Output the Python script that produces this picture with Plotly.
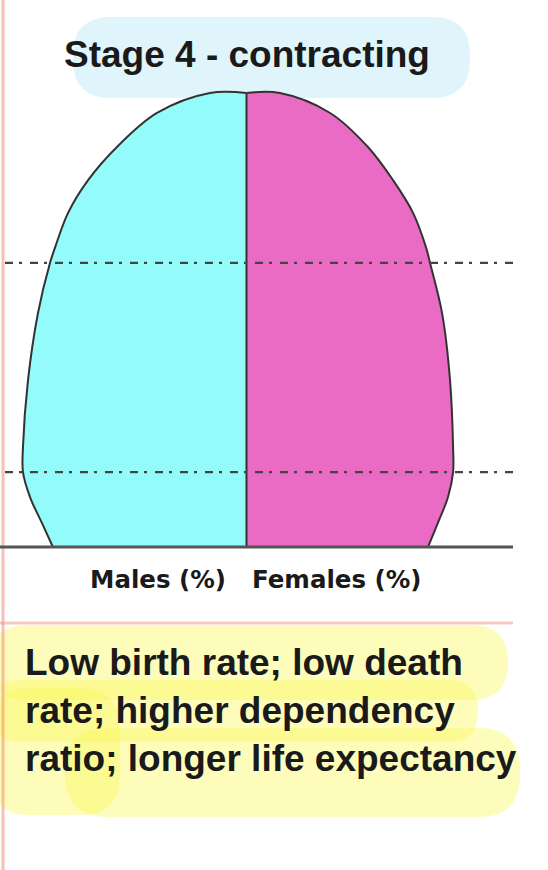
import plotly.graph_objects as go

# age (years, bottom -> top) and share of population at each age (%)
ages = [0, 5.3, 11, 16.5, 22, 36.8, 51.5, 62.6, 66, 73.6, 80.8, 88.1, 95.6, 100, 100]
males = [8.80, 9.30, 9.84, 10.16, 10.16, 9.93, 9.48, 8.93, 8.70, 8.11, 7.20, 5.89, 4.07, 1.66, 0]
females = [8.25, 8.70, 9.16, 9.39, 9.39, 9.25, 8.89, 8.34, 8.16, 7.57, 6.66, 5.52, 3.80, 1.52, 0]

# dependency boundaries (dash-dot guides)
guide_ages = [16.5, 62.6]

title = "Stage 4 - contracting"
axis_labels = ["Males (%)", "Females (%)"]
caption = ["Low birth rate; low death", "rate; higher dependency", "ratio; longer life expectancy"]

W, H = 548, 870
CENTER_PX, PX_PER_PCT = 246.5, 22.0
BASE_PX, PX_PER_YEAR = 547.0, 4.54


def px(x):
    return x / W


def py(y):
    return 1 - y / H


def blob(x0, y0, x1, y1, r):
    # rounded rectangle in pixel space -> paper path
    pts = [
        ("M", [(x0 + r, y0)]), ("L", [(x1 - r, y0)]), ("Q", [(x1, y0), (x1, y0 + r)]),
        ("L", [(x1, y1 - r)]), ("Q", [(x1, y1), (x1 - r, y1)]), ("L", [(x0 + r, y1)]),
        ("Q", [(x0, y1), (x0, y1 - r)]), ("L", [(x0, y0 + r)]), ("Q", [(x0, y0), (x0 + r, y0)]),
    ]
    d = ""
    for cmd, ps in pts:
        d += cmd + " " + " ".join(f"{px(a):.5f},{py(b):.5f}" for a, b in ps) + " "
    return d + "Z"


fig = go.Figure()

fig.add_trace(go.Scatter(
    x=[-m for m in males], y=ages, mode="lines", line_shape="spline",
    fill="tozerox", fillcolor="#93fbfa", line=dict(color="#333333", width=2),
))
fig.add_trace(go.Scatter(
    x=females, y=ages, mode="lines", line_shape="spline",
    fill="tozerox", fillcolor="#e96bc3", line=dict(color="#333333", width=2),
))
fig.add_trace(go.Scatter(
    x=[0, 0], y=[ages[0], ages[-1]], mode="lines", line=dict(color="#333333", width=2),
))

shapes = []
# highlighter marks
shapes.append(dict(type="path", xref="paper", yref="paper", layer="below",
                   path=blob(73, 17, 470, 98, 38), fillcolor="#dff4fb", line_width=0))
yellow = "rgba(250,248,90,0.42)"
for x0, y0, x1, y1, r in [(-10, 625, 508, 700, 37), (-10, 680, 478, 742, 30),
                          (65, 728, 520, 817, 42), (-10, 688, 120, 815, 40)]:
    shapes.append(dict(type="path", xref="paper", yref="paper", layer="below",
                       path=blob(x0, y0, x1, y1, r), fillcolor=yellow, line_width=0))

# faint red page rules
shapes.append(dict(type="line", xref="paper", yref="paper", x0=px(3), x1=px(3), y0=0, y1=1,
                   line=dict(color="rgba(240,140,120,0.55)", width=3)))
shapes.append(dict(type="line", xref="paper", yref="paper", x0=0, x1=px(513), y0=py(623), y1=py(623),
                   line=dict(color="rgba(240,140,120,0.45)", width=3)))

for g in guide_ages:
    shapes.append(dict(type="line", xref="paper", yref="y", x0=px(5), x1=px(513), y0=g, y1=g,
                       layer="above", line=dict(color="#444444", width=2.2, dash="8px,6px,3px,8px")))

shapes.append(dict(type="line", xref="paper", yref="y", x0=0, x1=px(513), y0=ages[0], y1=ages[0],
                   layer="above", line=dict(color="#555555", width=3)))

common = dict(xref="paper", yref="paper", showarrow=False, yanchor="middle")
annotations = [
    dict(text=f"<b>{title}</b>", x=px(246.5), y=py(54), xanchor="center",
         font=dict(family="Liberation Sans, Arial", size=37, color="#1a1a1a"), **common),
    dict(text=f"<b>{axis_labels[0]}</b>", x=px(157.5), y=py(579), xanchor="center",
         font=dict(family="DejaVu Sans", size=24.5, color="#1a1a1a"), **common),
    dict(text=f"<b>{axis_labels[1]}</b>", x=px(336.5), y=py(579), xanchor="center",
         font=dict(family="DejaVu Sans", size=24.5, color="#1a1a1a"), **common),
]
for i, line in enumerate(caption):
    annotations.append(dict(text=f"<b>{line}</b>", x=px(23), y=py(662 + 48 * i), xanchor="left",
                            font=dict(family="Liberation Sans, Arial", size=37, color="#1a1a1a"),
                            **common))

fig.update_layout(
    width=W, height=H, margin=dict(l=0, r=0, t=0, b=0),
    paper_bgcolor="white", plot_bgcolor="white", showlegend=False,
    xaxis=dict(visible=False, range=[-CENTER_PX / PX_PER_PCT, (W - CENTER_PX) / PX_PER_PCT]),
    yaxis=dict(visible=False, range=[(BASE_PX - H) / PX_PER_YEAR, BASE_PX / PX_PER_YEAR]),
    shapes=shapes, annotations=annotations,
)

# drop the browser's default body margin so the figure sits at the page origin
fig.write_html("out.html", config={"displayModeBar": False},
               post_script="document.body.style.margin='0';")
